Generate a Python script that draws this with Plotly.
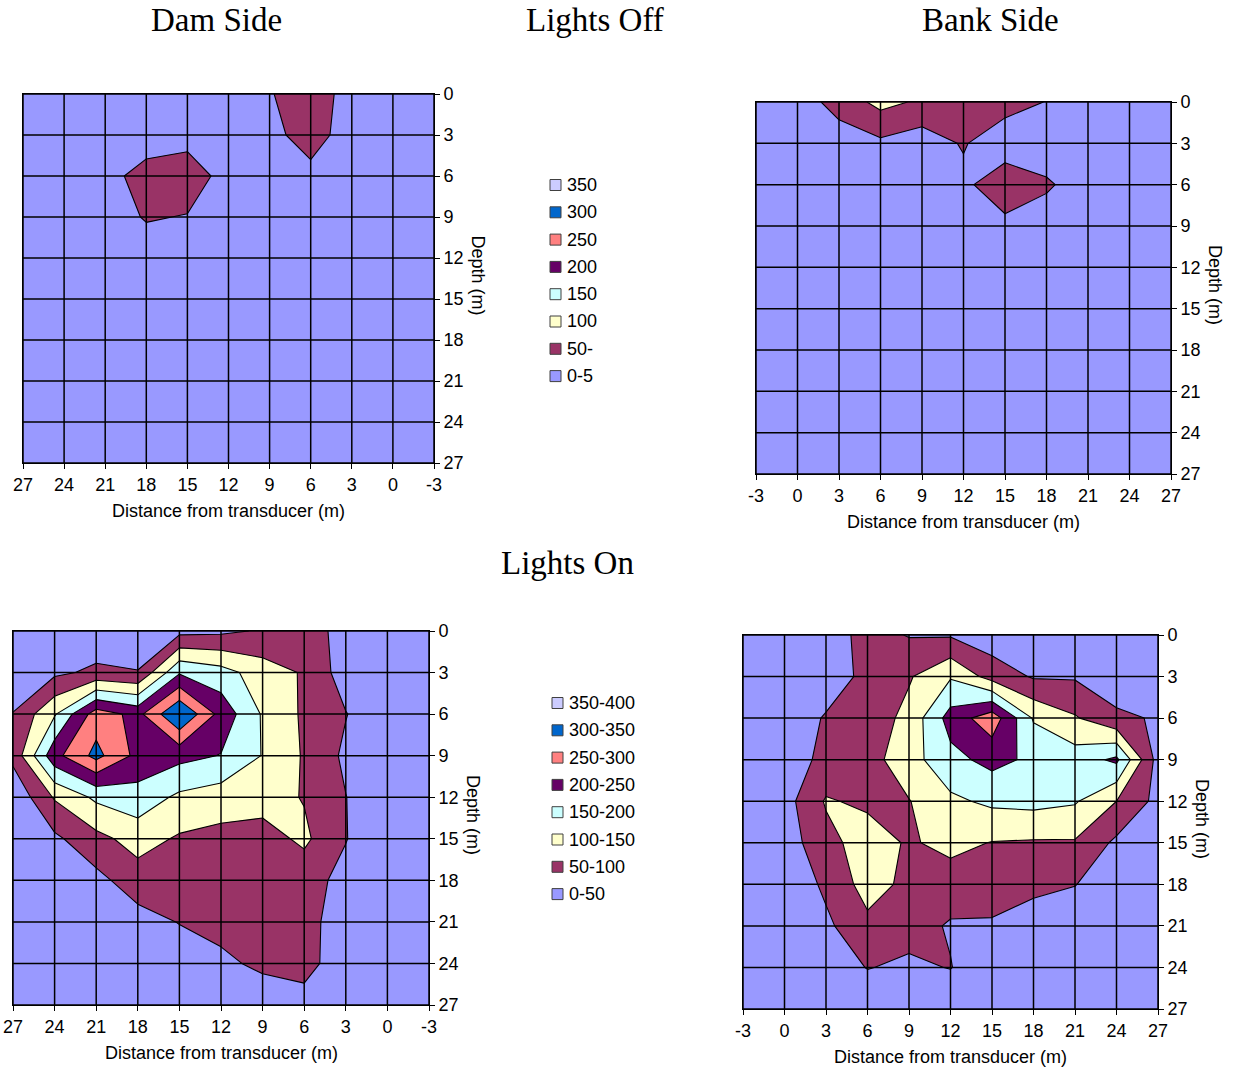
import plotly.graph_objects as go

# ---------------- data ----------------
X_DIST = [-3, 0, 3, 6, 9, 12, 15, 18, 21, 24, 27]        # distance from transducer (m)
DEPTH = [0, 3, 6, 9, 12, 15, 18, 21, 24, 27]             # depth (m)
TICKS = [-3, 0, 3, 6, 9, 12, 15, 18, 21, 24, 27]
DEPTH_TICKS = [0, 3, 6, 9, 12, 15, 18, 21, 24, 27]

# rows = depth, columns = X_DIST
Z_DAM_OFF = [
    [20, 15, 20, 90, 45, 25, 20, 15, 20, 15, 10],
    [15, 15, 16, 80, 30, 25, 26, 8, 15, 15, 10],
    [10, 10, 15, 30, 15, 24, 85, 80, 24, 15, 10],
    [10, 10, 10, 15, 15, 20, 47, 55, 20, 10, 10],
    [10, 10, 10, 10, 10, 15, 20, 17, 15, 10, 10],
    [10, 10, 10, 10, 10, 10, 10, 10, 10, 10, 10],
    [10, 10, 10, 10, 10, 10, 10, 10, 10, 10, 10],
    [10, 10, 10, 10, 10, 10, 10, 10, 10, 10, 10],
    [10, 10, 10, 10, 10, 10, 10, 10, 10, 10, 10],
    [10, 10, 10, 10, 10, 10, 10, 10, 10, 10, 10],
]
Z_BANK_OFF = [
    [20, 25, 69, 115, 92, 85, 75, 48, 20, 15, 10],
    [15, 15, 25, 40, 22, 55, 10, 15, 12, 10, 10],
    [10, 10, 15, 20, 20, 35, 95, 58, 20, 10, 10],
    [10, 10, 10, 15, 15, 15, 31, 20, 15, 10, 10],
    [10, 10, 10, 10, 10, 10, 15, 15, 10, 10, 10],
    [10, 10, 10, 10, 10, 10, 10, 10, 10, 10, 10],
    [10, 10, 10, 10, 10, 10, 10, 10, 10, 10, 10],
    [10, 10, 10, 10, 10, 10, 10, 10, 10, 10, 10],
    [10, 10, 10, 10, 10, 10, 10, 10, 10, 10, 10],
    [10, 10, 10, 10, 10, 10, 10, 10, 10, 10, 10],
]
Z_DAM_ON = [
    [5, 10, 20, 90, 55, 40, 35, 20, 15, 10, 5],
    [5, 10, 25, 95, 125, 170, 195, 52, 60, 40, 10],
    [5, 10, 52, 92, 145, 232, 352, 235, 275, 145, 52],
    [5, 10, 40, 95, 148, 198, 215, 235, 315, 234, 64],
    [5, 10, 51, 97, 120, 125, 140, 180, 160, 105, 10],
    [5, 8, 52, 110, 80, 85, 94, 120, 85, 40, 5],
    [5, 8, 35, 70, 75, 75, 78, 77, 35, 10, 5],
    [5, 8, 20, 70, 70, 65, 52, 30, 10, 5, 5],
    [5, 8, 20, 68, 60, 40, 20, 5, 5, 5, 5],
    [5, 5, 10, 30, 20, 10, 5, 5, 5, 5, 5],
]
Z_BANK_ON = [
    [5, 5, 20, 70, 47, 45, 20, 10, 10, 5, 5],
    [5, 10, 20, 65, 95, 145, 80, 45, 45, 20, 10],
    [5, 15, 55, 70, 115, 220, 280, 145, 105, 60, 45],
    [5, 30, 60, 80, 130, 185, 215, 190, 175, 210, 30],
    [5, 30, 105, 90, 98, 140, 160, 165, 155, 100, 35],
    [5, 25, 83, 125, 94, 115, 98, 95, 95, 40, 10],
    [5, 10, 60, 120, 88, 75, 70, 60, 52, 10, 5],
    [5, 5, 40, 88, 70, 45, 45, 30, 10, 5, 5],
    [5, 5, 20, 52, 40, 52, 10, 5, 5, 5, 5],
    [5, 5, 10, 10, 10, 5, 5, 5, 5, 5, 5],
]

# bands from low to high
BAND_COLORS = ["#9999FF", "#993366", "#FFFFCC", "#CCFFFF",
               "#660066", "#FF8080", "#0066CC", "#CCCCFF"]
BAND_LABELS = ["0-50", "50-100", "100-150", "150-200",
               "200-250", "250-300", "300-350", "350-400"]
BAND_LABELS_CLIPPED = ["0-5", "50-", "100", "150", "200", "250", "300", "350"]

# ---------------- figure ----------------
W, H = 1233, 1070
def px(x):
    return x / W
def py(y):
    return 1 - y / H

n = len(BAND_COLORS)
cscale = []
for k, c in enumerate(BAND_COLORS):
    lo = 0 if k == 0 else (k - 0.5) / (n - 1)
    hi = 1 if k == n - 1 else (k + 0.5) / (n - 1)
    cscale.append([lo, c])
    cscale.append([hi, c])

panels = [
    # z, axis number, plot box (pixels l, r, t, b), reversed x
    (Z_DAM_OFF, 1, (23, 434, 94, 463), True),
    (Z_BANK_OFF, 2, (756, 1171, 102, 474), False),
    (Z_DAM_ON, 3, (13, 429, 631, 1005), True),
    (Z_BANK_ON, 4, (743, 1158, 635, 1009), False),
]

fig = go.Figure()
shapes = []
annotations = []
font_ax = dict(family="Arial, Liberation Sans, sans-serif", size=18, color="black")

for z, i, (l, r, t, b), rev in panels:
    sx = "" if i == 1 else str(i)
    fig.add_trace(go.Contour(
        x=X_DIST, y=DEPTH, z=z,
        xaxis="x" + sx, yaxis="y" + sx,
        colorscale=cscale, zmin=25, zmax=375, showscale=False,
        autocontour=False,
        contours=dict(start=50, end=350, size=50, coloring="fill", showlines=True),
        line=dict(color="black", width=1.1, smoothing=0),
        hoverinfo="skip",
    ))
    xa = dict(domain=[px(l), px(r)], anchor="y" + sx, automargin=False,
              range=[27, -3] if rev else [-3, 27],
              tickvals=TICKS, ticktext=[str(v) for v in TICKS],
              ticks="outside", ticklen=5, tickcolor="black", tickwidth=1,
              showgrid=False, zeroline=False, showline=True, linecolor="black",
              linewidth=1, mirror=True, tickfont=font_ax, fixedrange=True)
    ya = dict(domain=[py(b), py(t)], anchor="x" + sx, side="right", automargin=False,
              range=[27, 0], tickvals=DEPTH_TICKS,
              ticktext=[str(v) for v in DEPTH_TICKS],
              ticks="outside", ticklen=5, tickcolor="black", tickwidth=1,
              showgrid=False, zeroline=False, showline=True, linecolor="black",
              linewidth=1, mirror=True, tickfont=font_ax, fixedrange=True)
    fig.update_layout(**{"xaxis" + sx: xa, "yaxis" + sx: ya})
    # grid lines on top of the fills
    for v in TICKS:
        shapes.append(dict(type="line", xref="x" + sx, yref="y" + sx,
                           x0=v, x1=v, y0=0, y1=27, layer="above",
                           line=dict(color="black", width=1.5)))
    for v in DEPTH_TICKS:
        shapes.append(dict(type="line", xref="x" + sx, yref="y" + sx,
                           x0=-3, x1=27, y0=v, y1=v, layer="above",
                           line=dict(color="black", width=1.5)))
    # axis titles
    annotations.append(dict(text="Distance from transducer (m)", xref="paper", yref="paper",
                            x=px((l + r) / 2), y=py(b + 48), showarrow=False,
                            xanchor="center", yanchor="middle", font=font_ax))
    annotations.append(dict(text="Depth (m)", xref="paper", yref="paper",
                            x=px(r + 44), y=py((t + b) / 2 - 3), showarrow=False, textangle=90,
                            xanchor="center", yanchor="middle", font=font_ax))

# titles
font_title = dict(family="Liberation Serif, Times New Roman, serif", size=33, color="black")
for txt, x, y in [("Dam Side", 216, 20), ("Lights Off", 595, 20),
                  ("Bank Side", 990, 20), ("Lights On", 567, 563)]:
    annotations.append(dict(text=txt, xref="paper", yref="paper", x=px(x), y=py(y),
                            showarrow=False, xanchor="center", yanchor="middle",
                            font=font_title))

# legends (top: clipped labels, bottom: full labels), highest band first
def add_legend(x_sq, y_top, step, labels, x_txt):
    for j, k in enumerate(range(n - 1, -1, -1)):
        yc = y_top + j * step
        shapes.append(dict(type="rect", xref="paper", yref="paper",
                           x0=px(x_sq), x1=px(x_sq + 11), y0=py(yc + 5.5), y1=py(yc - 5.5),
                           fillcolor=BAND_COLORS[k], line=dict(color="#404040", width=1)))
        annotations.append(dict(text=labels[k], xref="paper", yref="paper",
                                x=px(x_txt), y=py(yc), showarrow=False,
                                xanchor="left", yanchor="middle", font=font_ax))

add_legend(550, 185, 27.3, BAND_LABELS_CLIPPED, 565)
add_legend(552, 703, 27.3, BAND_LABELS, 567)

fig.update_layout(width=W, height=H,
                  margin=dict(l=0, r=0, t=0, b=0, pad=0, autoexpand=False),
                  paper_bgcolor="white", plot_bgcolor="white",
                  showlegend=False, shapes=shapes, annotations=annotations)

# remove the page's default body margin so the figure fills the window exactly
fig.write_html("out.html",
               config={"displayModeBar": False},
               post_script="document.body.style.margin='0px';"
                           "document.body.style.overflow='hidden';")
